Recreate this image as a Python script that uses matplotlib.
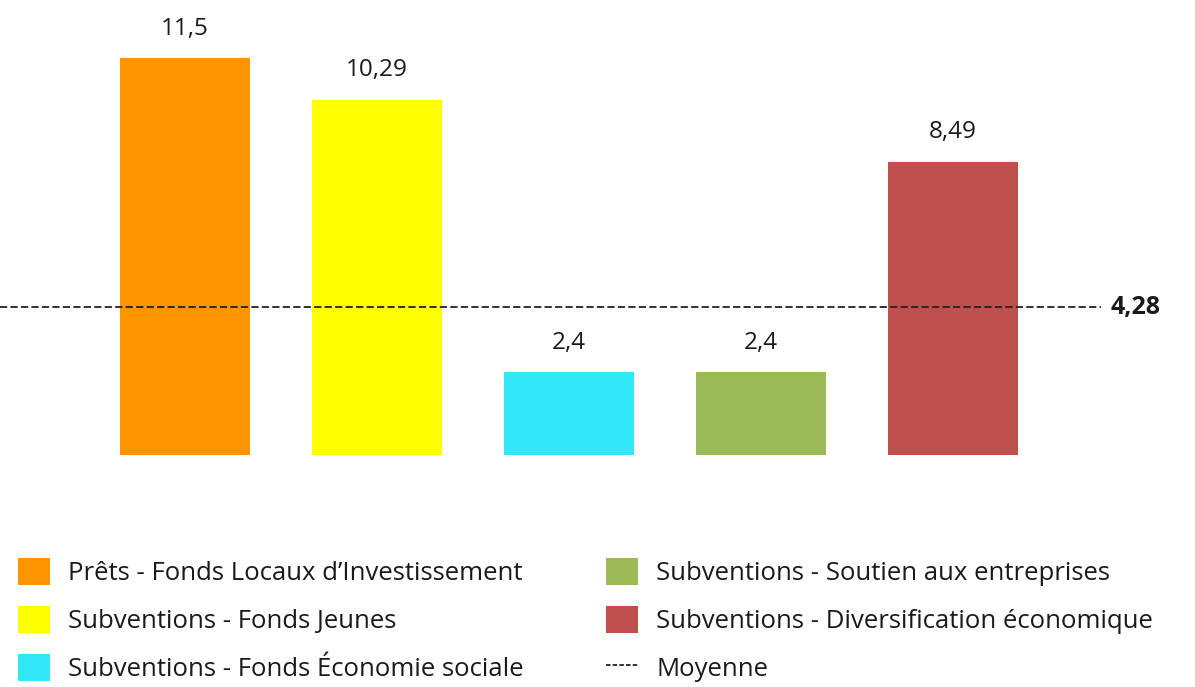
import matplotlib
matplotlib.use("Agg")
from matplotlib import pyplot as plt
from matplotlib.patches import Patch
from matplotlib.lines import Line2D

plt.rcParams["font.family"] = ["Open Sans", "DejaVu Sans"]

categories = [
    "Prêts - Fonds Locaux d’Investissement",
    "Subventions - Fonds Jeunes",
    "Subventions - Fonds Économie sociale",
    "Subventions - Soutien aux entreprises",
    "Subventions - Diversification économique",
]
values = [11.5, 10.29, 2.4, 2.4, 8.49]
value_labels = ["11,5", "10,29", "2,4", "2,4", "8,49"]
mean_value = 4.28
mean_label = "4,28"
colors = ["#FF9500", "#FFFF00", "#30E8F8", "#9BBB59", "#C0504D"]
text_color = "#1a1a1a"

fig = plt.figure(figsize=(11.95, 6.87), dpi=100)
# bars baseline at ~455px from top, ~34.5 px per unit
ax = fig.add_axes([0, 232 / 687, 1, 448.5 / 687])
ax.set_ylim(0, 13)
ax.set_xlim(-185 / 192, (1195 - 185) / 192)
ax.axis("off")

xs = list(range(len(values)))
bars = ax.bar(xs, values, width=130 / 192, color=colors)

for b, lab in zip(bars, value_labels):
    ax.annotate(lab, (b.get_x() + b.get_width() / 2, b.get_height()),
                xytext=(0, 17), textcoords="offset points", ha="center",
                va="baseline", fontsize=17.5, color=text_color)

ax.plot([-185 / 192, 4.77], [mean_value, mean_value], color="#222222",
        lw=1.3, linestyle=(0, (4, 1.8)))
ax.text(4.82, mean_value, mean_label, ha="left", va="center",
        fontsize=18, fontweight="bold", color=text_color)

handles = [Patch(facecolor=c, edgecolor="none") for c in colors]
mean_handle = Line2D([], [], color="#222222", lw=1.3, linestyle=(0, (2.5, 1.2)))

leg_kw = dict(frameon=False, fontsize=18.5, handlelength=1.25, handleheight=1.25,
              handletextpad=0.7, labelspacing=0.76, borderpad=0, borderaxespad=0,
              labelcolor=text_color)
leg1 = fig.legend(handles[:3], categories[:3], loc="upper left",
                  bbox_to_anchor=(18 / 1195, 1 - 558 / 687), **leg_kw)
leg2 = fig.legend(handles[3:] + [mean_handle], categories[3:] + ["Moyenne"],
                  loc="upper left", bbox_to_anchor=(606 / 1195, 1 - 558 / 687), **leg_kw)

fig.savefig("out.png", dpi=100, facecolor="white")
